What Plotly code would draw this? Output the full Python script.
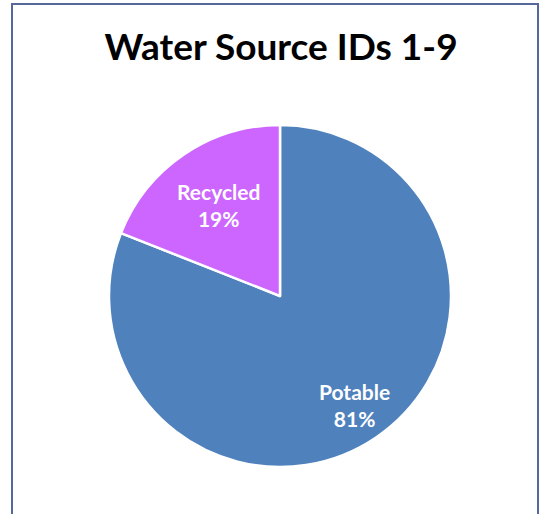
import math
import plotly.graph_objects as go

labels = ["Potable", "Recycled"]
values = [81, 19]
colors = ["#4F81BD", "#CC66FF"]
title_text = "Water Source IDs 1-9"

W, H = 548, 514
cx, cy, r = 280, 296, 171
label_radius = [0.77, 0.64]

fig = go.Figure(go.Pie(
    labels=labels,
    values=values,
    sort=False,
    direction="clockwise",
    rotation=0,
    marker=dict(colors=colors, line=dict(color="white", width=2.5)),
    textinfo="none",
    hoverinfo="label+percent",
    showlegend=False,
    domain=dict(x=[(cx - r) / W, (cx + r) / W], y=[1 - (cy + r) / H, 1 - (cy - r) / H]),
))

total = sum(values)
annotations = []
cum = 0
for lab, v, lr in zip(labels, values, label_radius):
    mid = (cum + v / 2) / total * 2 * math.pi
    cum += v
    px = cx + lr * r * math.sin(mid)
    py = cy - lr * r * math.cos(mid)
    annotations.append(dict(
        x=px / W, y=1 - py / H, xref="paper", yref="paper",
        text=f"{lab}<br>{round(v / total * 100)}%", showarrow=False,
        font=dict(family="Lato", size=21, color="white", weight="bold"),
        align="center", xanchor="center", yanchor="middle",
    ))

fig.update_layout(
    width=W, height=H,
    margin=dict(l=0, r=0, t=0, b=0),
    paper_bgcolor="white",
    title=dict(text=title_text, x=281 / W, xanchor="center", y=1 - 47 / H, yanchor="middle",
               font=dict(family="Lato", size=37, color="black", weight="bold")),
    annotations=annotations,
    shapes=[dict(type="rect", xref="paper", yref="paper",
                 x0=12 / W, x1=538 / W, y0=-0.05, y1=1 - 4 / H,
                 line=dict(color="#56689A", width=2), fillcolor="rgba(0,0,0,0)", layer="below")],
)

fig.write_html("out.html")
